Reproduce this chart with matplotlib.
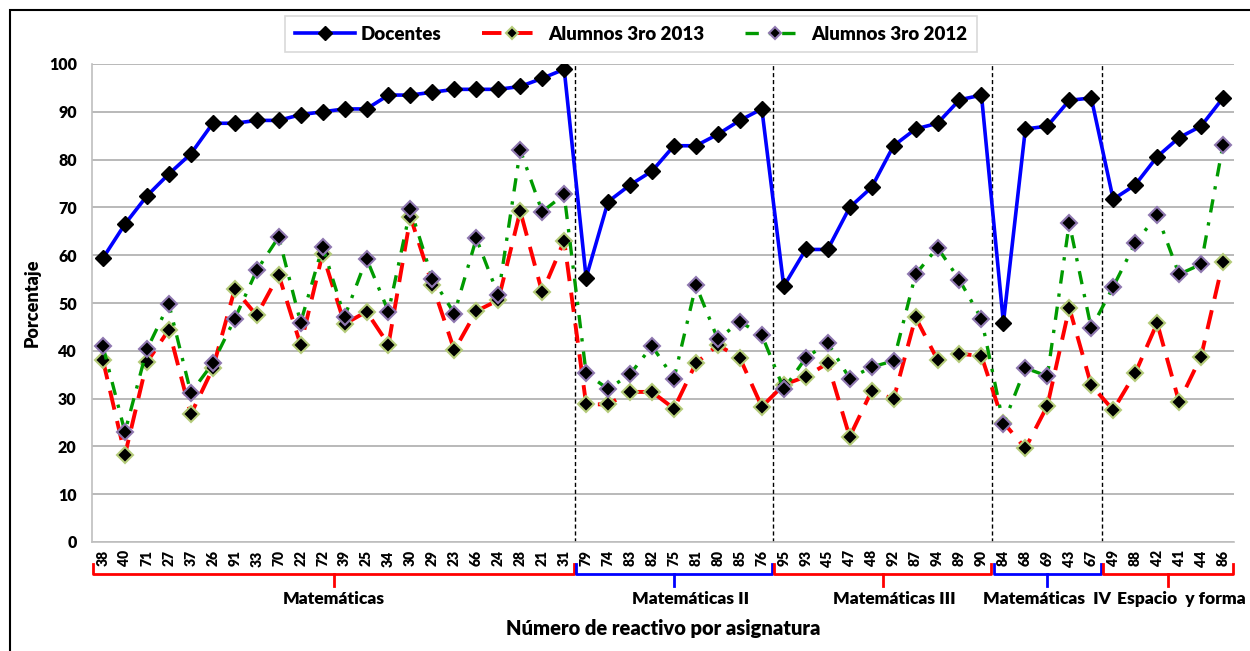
import matplotlib
matplotlib.use("Agg")
import matplotlib.pyplot as plt
from matplotlib.patches import Rectangle
import matplotlib.transforms as mtransforms

plt.rcParams['font.family'] = ['Lato', 'DejaVu Sans']
plt.rcParams['font.weight'] = 'heavy'

# reactivos por asignatura
reactivos = ['38', '40', '71', '27', '37', '26', '91', '33', '70', '22', '72', '39', '25', '34',
             '30', '29', '23', '66', '24', '28', '21', '31',
             '79', '74', '83', '82', '75', '81', '80', '85', '76',
             '95', '93', '45', '47', '48', '92', '87', '94', '89', '90',
             '84', '68', '69', '43', '67',
             '49', '88', '42', '41', '44', '86']
asignaturas = ['Matemáticas', 'Matemáticas II', 'Matemáticas III', 'Matemáticas  IV', 'Espacio  y forma']
n_por_asignatura = [22, 9, 10, 5, 6]
colores_llave = ['#FF0000', '#0000FF', '#FF0000', '#0000FF', '#FF0000']

docentes = [59.4, 66.5, 72.4, 77.0, 81.2, 87.6, 87.6, 88.2, 88.2, 89.4, 90.0, 90.6, 90.6, 93.5,
            93.5, 94.1, 94.7, 94.7, 94.7, 95.3, 97.0, 98.9,
            55.3, 71.2, 74.7, 77.6, 82.9, 82.9, 85.3, 88.2, 90.6,
            53.5, 61.2, 61.2, 70.0, 74.2, 82.9, 86.4, 87.6, 92.5, 93.5,
            45.9, 86.4, 87.0, 92.4, 92.9,
            71.7, 74.7, 80.6, 84.6, 87.0, 92.9]
alumnos_2013 = [38.0, 18.2, 37.6, 44.4, 26.7, 36.3, 52.9, 47.4, 55.9, 41.2, 60.3, 45.6, 48.2, 41.3,
                68.0, 53.8, 40.1, 48.3, 50.6, 69.2, 52.2, 63.0,
                28.8, 28.8, 31.4, 31.4, 27.9, 37.4, 41.2, 38.5, 28.3,
                32.9, 34.6, 37.4, 22.0, 31.6, 29.9, 47.0, 38.1, 39.4, 38.9,
                25.0, 19.6, 28.5, 49.0, 32.8,
                27.6, 35.3, 45.8, 29.3, 38.8, 58.6]
alumnos_2012 = [40.9, 23.0, 40.3, 49.8, 31.2, 37.4, 46.7, 56.8, 63.8, 45.9, 61.8, 47.1, 59.3, 48.2,
                69.7, 55.1, 47.8, 63.5, 51.6, 82.0, 69.1, 72.7,
                35.3, 32.0, 35.1, 41.0, 34.2, 53.7, 42.4, 46.1, 43.3,
                32.0, 38.5, 41.7, 34.2, 36.6, 37.9, 56.0, 61.6, 54.8, 46.7,
                24.7, 36.4, 34.7, 66.7, 44.7,
                53.4, 62.5, 68.4, 56.0, 58.1, 83.1]

fig = plt.figure(figsize=(12.5, 6.51), dpi=100)
fig.patches.append(Rectangle((10 / 1250, -0.1), 1.2, 1.1 - 10 / 651, transform=fig.transFigure,
                             fill=False, edgecolor='black', linewidth=1.5))
ax = fig.add_axes([92 / 1250, (651 - 542) / 651, (1234 - 92) / 1250, (542 - 64) / 651])

x = list(range(len(reactivos)))
l1, = ax.plot(x, docentes, color='#0000FF', lw=2.6, marker='D', ms=8.5,
              mfc='black', mec='black', zorder=5, label='Docentes')
l2, = ax.plot(x, alumnos_2013, color='#FF0000', lw=2.8, ls=(0, (5, 3)), marker='D', ms=8,
              mfc='black', mec='#B5CC7A', mew=1.5, zorder=3, label='Alumnos 3ro 2013')
l3, = ax.plot(x, alumnos_2012, color='#009A00', lw=2.4, ls=(0, (4, 3, 1, 3)), marker='D', ms=8,
              mfc='black', mec='#8F78B0', mew=1.5, zorder=4, label='Alumnos 3ro 2012')

ax.set_xlim(-0.5, len(reactivos) - 0.5)
ax.set_ylim(0, 100)
ax.set_yticks(range(0, 101, 10))
ax.set_xticks(x)
ax.set_xticklabels(reactivos, rotation=90, fontsize=10)
ax.tick_params(axis='both', length=0, pad=6)
ax.tick_params(axis='y', pad=11, labelsize=11.5)
ax.grid(axis='y', color='#A6A6A6', lw=1.1)
ax.set_axisbelow(True)
for s in ['top', 'right']:
    ax.spines[s].set_visible(False)
for s in ['left', 'bottom']:
    ax.spines[s].set_color('#BFBFBF')
    ax.spines[s].set_linewidth(1.2)

ax.set_ylabel('Porcentaje', fontsize=13, fontweight='heavy', labelpad=6)

# separadores y llaves por asignatura
trans = mtransforms.blended_transform_factory(ax.transData, ax.transAxes)
h = 478.0
y_llave = -(574 - 542) / h
y_punta = -(564 - 542) / h
y_centro = -(586 - 542) / h
y_texto = -(599 - 542) / h
desplaza_texto = [0, 0.75, 0.55, 0, 0.6]
inicio = 0
for nombre, n, c, d in zip(asignaturas, n_por_asignatura, colores_llave, desplaza_texto):
    a = inicio - 0.45
    b = inicio + n - 0.55
    if inicio + n < len(reactivos):
        ax.axvline(inicio + n - 0.5, color='black', ls=(0, (3, 2)), lw=1.0, zorder=2)
    ax.plot([a, a, b, b], [y_punta, y_llave, y_llave, y_punta], color=c, lw=2,
            transform=trans, clip_on=False)
    m = (a + b) / 2
    ax.plot([m, m], [y_llave, y_centro], color=c, lw=2, transform=trans, clip_on=False)
    ax.text(m + d, y_texto, nombre, transform=trans, ha='center', va='center', fontsize=12.5)
    inicio += n

ax.text(0.5, -(628 - 542) / h, 'Número de reactivo por asignatura', transform=ax.transAxes,
        ha='center', va='center', fontsize=14.5)

leg = fig.legend(handles=[l1, l2, l3], loc='center', bbox_to_anchor=(631 / 1250, 1 - 34 / 651),
                 ncol=3, fontsize=13.5, frameon=True, fancybox=False, edgecolor='#D0D0D0',
                 handlelength=3.2, columnspacing=2.2, borderpad=0.5, handletextpad=0.3,
                 markerscale=0.8)
leg.get_frame().set_linewidth(1.2)

fig.savefig('out.png', dpi=100)
